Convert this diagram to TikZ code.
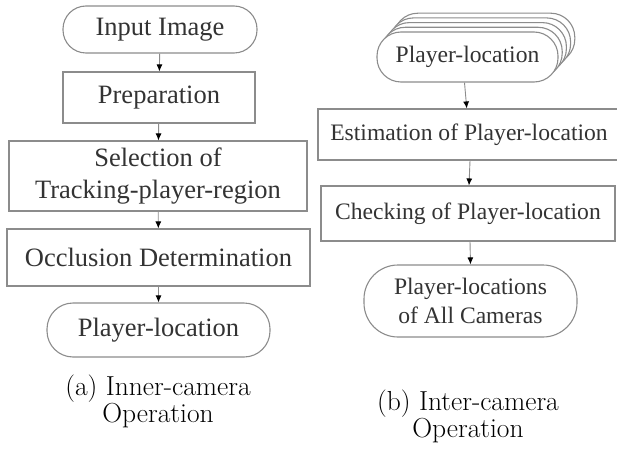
\documentclass[tikz,border=0pt]{standalone}
\usepackage{fontspec}
\setmainfont{Latin Modern Roman}
\newfontfamily\boxfont{Liberation Serif}
\usetikzlibrary{arrows.meta}
\definecolor{linegray}{gray}{0.55}
\definecolor{textgray}{gray}{0.2}
\tikzset{
    proc/.style={draw=linegray, line width=1.1pt, fill=white, inner sep=0pt,
        align=center, text=textgray, font=\boxfont\fontsize{26.5}{32}\selectfont},
    procb/.style={proc, font=\boxfont\fontsize{23.6}{29}\selectfont},
    term/.style={proc, rounded corners=#1},
    termb/.style={procb, rounded corners=#1},
    flow/.style={draw=linegray, line width=0.9pt, -{Latex[length=7pt,width=6pt,color=black]}},
    capt/.style={align=center, font=\fontsize{27.5}{26}\selectfont}
}
\begin{document}
\begin{tikzpicture}[x=1pt, y=-1pt]
    \useasboundingbox (0,0) rectangle (617,457);
    % (a) inner-camera
    \node[term=23pt, minimum width=194pt, minimum height=47pt] (input) at (160,29.5) {Input Image};
    \node[proc, minimum width=192pt, minimum height=51pt] (prep) at (159,97.5) {Preparation};
    \node[proc, minimum width=298pt, minimum height=70pt] (sel) at (158,176) {Selection of\\Tracking-player-region};
    \node[proc, minimum width=303pt, minimum height=57pt] (occ) at (158.5,257.5) {Occlusion Determination};
    \node[term=26pt, minimum width=223pt, minimum height=54pt] (ploc) at (158.5,330) {Player-location};
    \draw[flow] (input) -- (prep);
    \draw[flow] (prep) -- (sel);
    \draw[flow] (sel) -- (occ);
    \draw[flow] (occ) -- (ploc);
    \node[capt] (capa) at (158,401) {(a) Inner-camera\\Operation};
    % (b) inter-camera
    \foreach \i in {4,3,2,1}
        \node[termb=24pt, minimum width=181pt, minimum height=50pt] (back\i) at (467.5+4.2*\i,57-4.7*\i) {};
    \node[termb=24pt, minimum width=181pt, minimum height=50pt] (plocs) at (467.5,57) {Player-location};
    \node[procb, minimum width=302pt, minimum height=51pt] (est) at (469,134.5) {Estimation of Player-location};
    \node[procb, minimum width=294pt, minimum height=55pt] (chk) at (468,213.5) {Checking of Player-location};
    \node[termb=34pt, minimum width=213pt, minimum height=72pt] (allc) at (470.5,301) {Player-locations\\of All Cameras};
    \draw[flow] ([xshift=-3pt]plocs.south) -- (est);
    \draw[flow] ([xshift=1pt]est.south) -- ([xshift=1pt]chk.north);
    \draw[flow] ([xshift=2pt]chk.south) -- ([xshift=0pt]allc.north);
    \node[capt] (capb) at (468,416) {(b) Inter-camera\\Operation};
\end{tikzpicture}
\end{document}
